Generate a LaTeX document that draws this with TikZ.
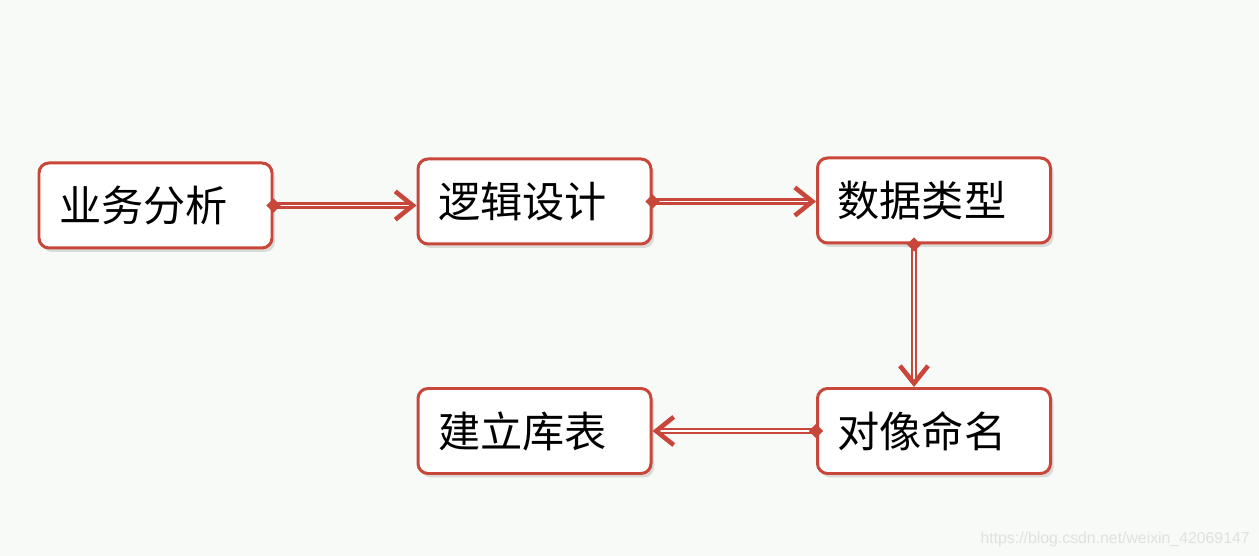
\documentclass[tikz,border=0pt]{standalone}
\usepackage{fontspec}
\newfontfamily\cjk{Noto Sans CJK SC}
\newfontfamily\wmfont{Liberation Sans}
\usetikzlibrary{arrows.meta,shadows}
\definecolor{rahmen}{HTML}{C9473A}
\definecolor{hinter}{HTML}{F7FAF7}
\tikzset{
  kasten/.style={draw=rahmen, line width=1.7pt, fill=white, rounded corners=0.2cm,
    minimum width=4.66cm, minimum height=1.7cm, text width=3.86cm, inner xsep=0.4cm,
    align=left, font=\cjk\fontsize{24}{28}\selectfont,
    drop shadow={opacity=0.25, shadow xshift=0.06cm, shadow yshift=-0.08cm}},
  pfeil/.style={draw=rahmen, double=white, double distance=0.9pt, line width=1.3pt,
    shorten <=-4pt,
    {Diamond[length=8pt,width=8pt,fill=rahmen]}-{Straight Barb[length=10pt,width=16pt,line width=2.6pt]}}
}
\begin{document}
\begin{tikzpicture}
  % Hintergrund
  \fill[hinter] (0,0) rectangle (25.18,11.12);

  % Kaesten
  \node[kasten] (analyse) at (3.11,7.01) {业务分析};
  \node[kasten] (logik) at (10.69,7.09) {逻辑设计};
  \node[kasten] (typen) at (18.68,7.11) {数据类型};
  \node[kasten] (namen) at (18.68,2.5) {对像命名};
  \node[kasten] (tabelle) at (10.69,2.5) {建立库表};

  % Verbindungen
  \draw[pfeil] (analyse.east) -- (analyse.east -| logik.west);
  \draw[pfeil] (logik.east) -- (logik.east -| typen.west);
  \draw[pfeil] ([xshift=-0.4cm]typen.south) -- ([xshift=-0.4cm]namen.north);
  \draw[pfeil] (namen.west) -- (tabelle.east);

  % Wasserzeichen
  \node[anchor=south east, inner sep=0pt, text=black!12, font=\wmfont\fontsize{9}{10}\selectfont]
    (quelle) at (25.0,0.18) {https://blog.csdn.net/weixin\_42069147};
\end{tikzpicture}
\end{document}
